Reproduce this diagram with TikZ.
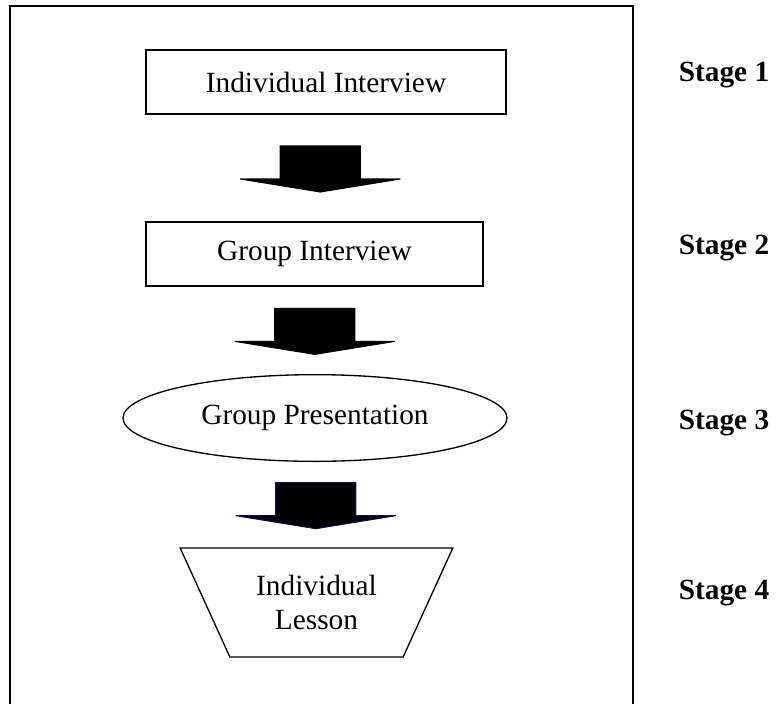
\documentclass[tikz,border=0pt]{standalone}
\usepackage{fontspec}
\setmainfont{Liberation Serif}
\usepackage {tikz}
\usetikzlibrary {positioning}
\usetikzlibrary{calc}
\usetikzlibrary{shapes.geometric}
\definecolor{arrownavy}{RGB}{12,12,80}

\begin{document}
\begin{tikzpicture}[x=0.75pt, y=-0.75pt, box node/.style={shape=rectangle,draw=black,line width=1.1pt,inner sep=0,font=\fontsize{22}{26}\selectfont}, pres node/.style={shape=ellipse,draw=black,line width=1pt,inner sep=0,minimum width=288pt,minimum height=65pt,font=\fontsize{22}{26}\selectfont}, lesson node/.style={shape=trapezium,trapezium left angle=58,trapezium right angle=58,shape border rotate=180,trapezium stretches=true,draw=black,line width=1pt,inner sep=0,minimum width=204.75pt,minimum height=81.75pt,align=center,font=\fontsize{22}{26}\selectfont}, stage node/.style={font=\fontsize{22}{26}\selectfont\bfseries}, block arrow/.style={fill=black}, ]
		\useasboundingbox (0,0) rectangle (778,704);
		%frame, open at the bottom
		\draw[line width=1.2pt] (10,704) -- (10,6) -- (633,6) -- (633,704);
		\node[box node,minimum width=270pt,minimum height=48pt] (box1) at (326,82){Individual Interview};
		\node[box node,minimum width=252.75pt,minimum height=48pt] (box2) at (314.5,254){Group Interview};
		\node[pres node] (pres) at (315,418){Group Presentation};
		\node[lesson node] (lesson) at (316.5,602.5){Individual\\Lesson};
		%stage labels
		\foreach \y [count=\i] in {75,248,423,593}
		{
			\node[stage node] (st\i) at (724,\y){Stage \i};
		}
		%block arrows between the steps
		\foreach \a/\b/\c in {box1/box2/black, box2/pres/black, pres/lesson/arrownavy}
		{
			\coordinate (m) at ($(\a.south)!0.5!(\b.north)$);
			\filldraw[block arrow,draw=\c,line width=0.8pt,shift={(m)}] (-40,-22) -- (40,-22) -- (40,11) -- (80,11) -- (0,24) -- (-80,11) -- (-40,11) -- cycle;
		}
		
		
		
		\end{tikzpicture}
\end{document}
